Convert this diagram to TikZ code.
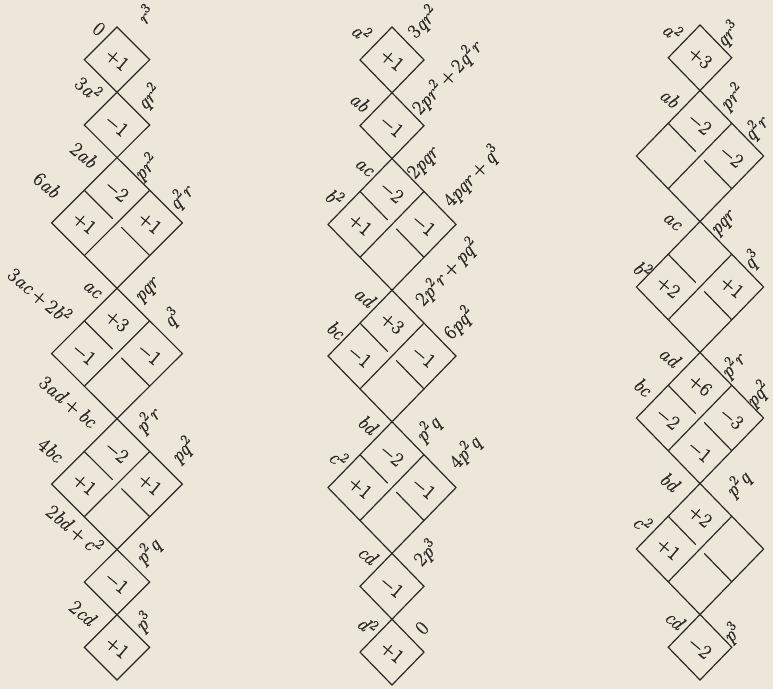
\documentclass[tikz,border=0pt]{standalone}
\usepackage{fontspec}
\setmainfont{Latin Modern Roman}[FakeBold=1.2]
\definecolor{paper}{RGB}{237,231,218}
\definecolor{ink}{RGB}{42,40,38}
\tikzset{
  gridline/.style={line width=1.2pt, draw=ink, line cap=round},
  cell/.style={rotate=-40, font=\fontsize{20}{23}\selectfont, text=ink, inner sep=0pt},
  llab/.style={rotate=-40, font=\fontsize{20}{23}\selectfont, text=ink, inner sep=0pt},
  rlab/.style={rotate=47, font=\fontsize{20}{23}\selectfont, text=ink, inner sep=0pt}
}
\newcommand\vv[1]{\textit{#1}}
\newcommand\sq[1]{\textsuperscript{#1}}
\newcommand\pl{\,+\,}
\newcommand\oneblk[1]{%
  \draw[gridline] ({#1},{#1}) -- ({#1+1},{#1}) -- ({#1+1},{#1+1}) -- ({#1},{#1+1}) -- cycle;}
\newcommand\twoblk[1]{%
  \draw[gridline] ({#1},{#1}) -- ({#1+2},{#1}) -- ({#1+2},{#1+2}) -- ({#1},{#1+2}) -- cycle;
  \draw[gridline] ({#1+1},{#1}) -- ({#1+1},{#1+2});
  \draw[gridline] ({#1},{#1+1}) -- ({#1+0.86},{#1+1});
  \draw[gridline] ({#1+1.14},{#1+1}) -- ({#1+2},{#1+1});}
\begin{document}
\begin{tikzpicture}[x=1pt,y=1pt]
\fill[paper] (0,0) rectangle (773,-689);
\useasboundingbox (0,0) rectangle (773,-689);

% ---------------- left column ----------------
\begin{scope}[shift={(117pt,-27pt)},x={(32.7pt,-32.65pt)},y={(-32.7pt,-32.65pt)}]
  \oneblk{0}\oneblk{1}\twoblk{2}\twoblk{4}\twoblk{6}\oneblk{8}\oneblk{9}
  \node[cell] (a1) at (0.5,0.5) {+1};
  \node[cell] (a2) at (1.5,1.5) {−1};
  \node[cell] (a3) at (2.5,2.5) {−2};
  \node[cell] (a4) at (2.5,3.5) {+1};
  \node[cell] (a5) at (3.5,2.5) {+1};
  \node[cell] (a6) at (4.5,4.5) {+3};
  \node[cell] (a7) at (4.5,5.5) {−1};
  \node[cell] (a8) at (5.5,4.5) {−1};
  \node[cell] (a9) at (6.5,6.5) {−2};
  \node[cell] (a10) at (6.5,7.5) {+1};
  \node[cell] (a11) at (7.5,6.5) {+1};
  \node[cell] (a12) at (8.5,8.5) {−1};
  \node[cell] (a13) at (9.5,9.5) {+1};
\end{scope}
\node[llab] (la1) at (99,-29) {0};
\node[llab] (la2) at (89,-88) {3\vv{a}\sq{2}};
\node[llab] (la3) at (84,-155) {2\vv{ab}};
\node[llab] (la4) at (47,-185) {6\vv{ab}};
\node[llab] (la5) at (40,-295) {3\vv{ac}\pl2\vv{b}\sq{2}};
\node[llab] (la6) at (92,-290) {\vv{ac}};
\node[llab] (la7) at (68,-402) {3\vv{ad}\pl\vv{bc}};
\node[llab] (la8) at (51,-450) {4\vv{bc}};
\node[llab] (la9) at (75,-529) {2\vv{bd}\pl\vv{c}\sq{2}};
\node[llab] (la10) at (83,-613) {2\vv{cd}};
\node[rlab] (ra1) at (145,-14) {\vv{r}\sq{3}};
\node[rlab] (ra2) at (149,-97) {\vv{qr}\sq{2}};
\node[rlab] (ra3) at (146,-167) {\vv{pr}\sq{2}};
\node[rlab] (ra4) at (181,-197) {\vv{q}\sq{2}\vv{r}};
\node[rlab] (ra5) at (149,-291) {\vv{pqr}};
\node[rlab] (ra6) at (172,-318) {\vv{q}\sq{3}};
\node[rlab] (ra7) at (148,-420) {\vv{p}\sq{2}\vv{r}};
\node[rlab] (ra8) at (183,-450) {\vv{pq}\sq{2}};
\node[rlab] (ra9) at (148,-551) {\vv{p}\sq{2}\vv{q}};
\node[rlab] (ra10) at (144,-622) {\vv{p}\sq{3}};

% ---------------- middle column ----------------
\begin{scope}[shift={(392pt,-27pt)},x={(32pt,-32.9pt)},y={(-32pt,-32.9pt)}]
  \oneblk{0}\oneblk{1}\twoblk{2}\twoblk{4}\twoblk{6}\oneblk{8}\oneblk{9}
  \node[cell] (b1) at (0.5,0.5) {+1};
  \node[cell] (b2) at (1.5,1.5) {−1};
  \node[cell] (b3) at (2.5,2.5) {−2};
  \node[cell] (b4) at (2.5,3.5) {+1};
  \node[cell] (b5) at (3.5,2.5) {−1};
  \node[cell] (b6) at (4.5,4.5) {+3};
  \node[cell] (b7) at (4.5,5.5) {−1};
  \node[cell] (b8) at (5.5,4.5) {−1};
  \node[cell] (b9) at (6.5,6.5) {−2};
  \node[cell] (b10) at (6.5,7.5) {+1};
  \node[cell] (b11) at (7.5,6.5) {−1};
  \node[cell] (b12) at (8.5,8.5) {−1};
  \node[cell] (b13) at (9.5,9.5) {+1};
\end{scope}
\node[llab] (lb1) at (362,-32) {\vv{a}\sq{2}};
\node[llab] (lb2) at (360,-102) {\vv{ab}};
\node[llab] (lb3) at (364,-168) {\vv{ac}};
\node[llab] (lb4) at (335,-197) {\vv{b}\sq{2}};
\node[llab] (lb5) at (365,-297) {\vv{ad}};
\node[llab] (lb6) at (336,-330) {\vv{bc}};
\node[llab] (lb7) at (368,-425) {\vv{bd}};
\node[llab] (lb8) at (339,-458) {\vv{c}\sq{2}};
\node[llab] (lb9) at (368,-555) {\vv{cd}};
\node[llab] (lb10) at (368,-625) {\vv{d}\sq{2}};
\node[rlab] (rb1) at (423,-22) {3\vv{qr}\sq{2}};
\node[rlab] (rb2) at (447,-77) {2\vv{pr}\sq{2}\pl2\vv{q}\sq{2}\vv{r}};
\node[rlab] (rb3) at (424,-163) {2\vv{pqr}};
\node[rlab] (rb4) at (472,-176) {4\vv{pqr}\pl\vv{q}\sq{3}};
\node[rlab] (rb5) at (447,-272) {2\vv{p}\sq{2}\vv{r}\pl\vv{pq}\sq{2}};
\node[rlab] (rb6) at (459,-323) {6\vv{pq}\sq{2}};
\node[rlab] (rb7) at (428,-429) {\vv{p}\sq{2}\vv{q}};
\node[rlab] (rb8) at (465,-452) {4\vv{p}\sq{2}\vv{q}};
\node[rlab] (rb9) at (426,-553) {2\vv{p}\sq{3}};
\node[rlab] (rb10) at (422,-628) {0};

% ---------------- right column ----------------
\begin{scope}[shift={(700pt,-25pt)},x={(31.8pt,-32.75pt)},y={(-31.8pt,-32.75pt)}]
  \oneblk{0}\twoblk{1}\twoblk{3}\twoblk{5}\twoblk{7}\oneblk{9}
  \node[cell] (c1) at (0.5,0.5) {+3};
  \node[cell] (c2) at (1.5,1.5) {−2};
  \node[cell] (c3) at (2.5,1.5) {−2};
  \node[cell] (c4) at (3.5,4.5) {+2};
  \node[cell] (c5) at (4.5,3.5) {+1};
  \node[cell] (c6) at (5.5,5.5) {+6};
  \node[cell] (c7) at (5.5,6.5) {−2};
  \node[cell] (c8) at (6.5,5.5) {−3};
  \node[cell] (c9) at (6.5,6.5) {−1};
  \node[cell] (c10) at (7.5,7.5) {+2};
  \node[cell] (c11) at (7.5,8.5) {+1};
  \node[cell] (c12) at (9.5,9.5) {−2};
\end{scope}
\node[llab] (lc1) at (673,-31) {\vv{a}\sq{2}};
\node[llab] (lc2) at (670,-98) {\vv{ab}};
\node[llab] (lc3) at (672,-222) {\vv{ac}};
\node[llab] (lc4) at (643,-269) {\vv{b}\sq{2}};
\node[llab] (lc5) at (670,-357) {\vv{ad}};
\node[llab] (lc6) at (643,-387) {\vv{bc}};
\node[llab] (lc7) at (670,-482) {\vv{bd}};
\node[llab] (lc8) at (643,-523) {\vv{c}\sq{2}};
\node[llab] (lc9) at (675,-620) {\vv{cd}};
\node[rlab] (rc1) at (728,-34) {\vv{qr}\sq{3}};
\node[rlab] (rc2) at (732,-97) {\vv{pr}\sq{2}};
\node[rlab] (rc3) at (756,-128) {\vv{q}\sq{2}\vv{r}};
\node[rlab] (rc4) at (725,-224) {\vv{pqr}};
\node[rlab] (rc5) at (752,-260) {\vv{q}\sq{3}};
\node[rlab] (rc6) at (733,-365) {\vv{p}\sq{2}\vv{r}};
\node[rlab] (rc7) at (758,-394) {\vv{pq}\sq{2}};
\node[rlab] (rc8) at (738,-484) {\vv{p}\sq{2}\vv{q}};
\node[rlab] (rc9) at (732,-633) {\vv{p}\sq{3}};
\end{tikzpicture}
\end{document}
